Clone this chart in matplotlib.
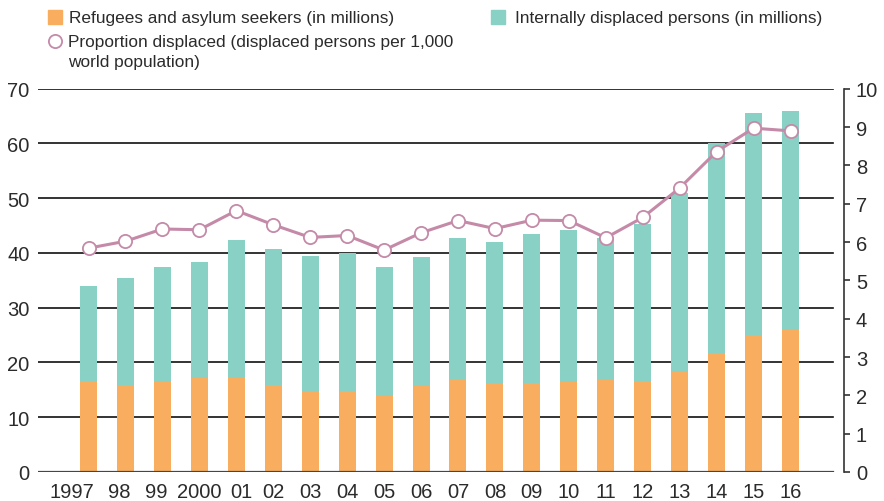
import matplotlib
matplotlib.use("Agg")
import matplotlib.pyplot as plt
from matplotlib.patches import Rectangle
from matplotlib.lines import Line2D
from matplotlib.transforms import ScaledTranslation
import numpy as np

plt.rcParams['font.family'] = ['Liberation Sans', 'DejaVu Sans']

years = ["1997", "98", "99", "2000", "01", "02", "03", "04", "05", "06",
         "07", "08", "09", "10", "11", "12", "13", "14", "15", "16"]
refugees = [16.6, 15.9, 16.4, 17.1, 17.1, 15.9, 14.8, 14.8, 13.8, 15.7,
            16.8, 16.3, 16.3, 16.4, 16.8, 16.6, 18.2, 21.8, 25.0, 25.9]
totals = [33.9, 35.4, 37.4, 38.3, 42.4, 40.7, 39.4, 40.0, 37.4, 39.2,
          42.7, 42.0, 43.5, 44.2, 42.8, 45.3, 51.0, 60.1, 65.6, 65.9]
idps = [t - r for t, r in zip(totals, refugees)]
proportion = [5.84, 6.02, 6.34, 6.32, 6.82, 6.45, 6.12, 6.17, 5.79, 6.24,
              6.56, 6.35, 6.57, 6.56, 6.11, 6.64, 7.41, 8.36, 8.97, 8.90]

left_ticks = [0, 10, 20, 30, 40, 50, 60, 70]
right_ticks = [0, 1, 2, 3, 4, 5, 6, 7, 8, 9, 10]

ORANGE = "#f9ae5f"
TEAL = "#89d0c5"
MAUVE = "#c48aa8"
TXT = "#2b2b2b"

W, H = 884, 502
fig = plt.figure(figsize=(W / 100, H / 100), dpi=100)
ax = fig.add_axes([38 / W, 1 - 473 / H, (844 - 38) / W, (473 - 89.7) / H])

x = np.arange(len(years))
for v in left_ticks[1:]:
    ax.axhline(v, xmin=0, xmax=(833 - 38) / (844 - 38), color="#111111", lw=1.2, zorder=1)
ax.axhline(0, xmin=0, xmax=(833 - 38) / (844 - 38), color="#4a4444", lw=1.6, zorder=4)

ax.bar(x, refugees, width=0.46, color=ORANGE, zorder=2)
ax.bar(x, idps, bottom=refugees, width=0.46, color=TEAL, zorder=2)

ax.set_xlim(-1.367, 20.447)
ax.set_ylim(0, 70)
ax.set_yticks(left_ticks)
ax.set_yticklabels([str(v) for v in left_ticks])
ax.set_xticks(x)
ax.set_xticklabels(years)
ax.tick_params(axis="y", length=0, pad=6, labelsize=14.5, labelcolor=TXT)
ax.tick_params(axis="x", length=0, pad=7, labelsize=14.5, labelcolor=TXT)
for s in ax.spines.values():
    s.set_visible(False)

# slight horizontal nudges of the first crowded year labels
nudges = {0: -17, 1: -6, 2: -6, 4: 5}
for i, lab in enumerate(ax.get_xticklabels()):
    if i in nudges:
        lab.set_transform(lab.get_transform() + ScaledTranslation(nudges[i] / 100, 0, fig.dpi_scale_trans))

ax2 = ax.twinx()
ax2.set_ylim(0, 10)
ax2.set_yticks(right_ticks)
ax2.plot(x, proportion, color=MAUVE, lw=2.2, marker="o", markersize=9.5,
         markerfacecolor="white", markeredgecolor=MAUVE, markeredgewidth=1.3, zorder=5)
for name, s in ax2.spines.items():
    s.set_visible(name == "right")
ax2.spines["right"].set_color("#333333")
ax2.spines["right"].set_linewidth(1.2)
ax2.tick_params(axis="y", length=4.5, width=1.2, color="#333333", pad=4,
                labelsize=14.5, labelcolor=TXT)

# Legend
def fx(px):
    return px / W

def fy(py):
    return 1 - py / H

LFS = 12.4
fig.patches.append(Rectangle((fx(48), fy(25)), 14 / W, 14 / H, transform=fig.transFigure,
                             color=ORANGE, figure=fig))
fig.text(fx(69), fy(18), "Refugees and asylum seekers (in millions)", fontsize=LFS,
         color=TXT, va="center", ha="left")
fig.patches.append(Rectangle((fx(491), fy(25)), 14 / W, 14 / H, transform=fig.transFigure,
                             color=TEAL, figure=fig))
fig.text(fx(515), fy(18), "Internally displaced persons (in millions)", fontsize=LFS,
         color=TXT, va="center", ha="left")
fig.lines.append(Line2D([fx(54.5)], [fy(42)], transform=fig.transFigure, marker="o",
                        markersize=9.5, markerfacecolor="white", markeredgecolor=MAUVE,
                        markeredgewidth=1.3, linestyle="none", figure=fig))
fig.text(fx(68), fy(42), "Proportion displaced (displaced persons per 1,000", fontsize=LFS,
         color=TXT, va="center", ha="left")
fig.text(fx(68), fy(63), "world population)", fontsize=LFS,
         color=TXT, va="center", ha="left")

fig.savefig("out.png", dpi=100)
